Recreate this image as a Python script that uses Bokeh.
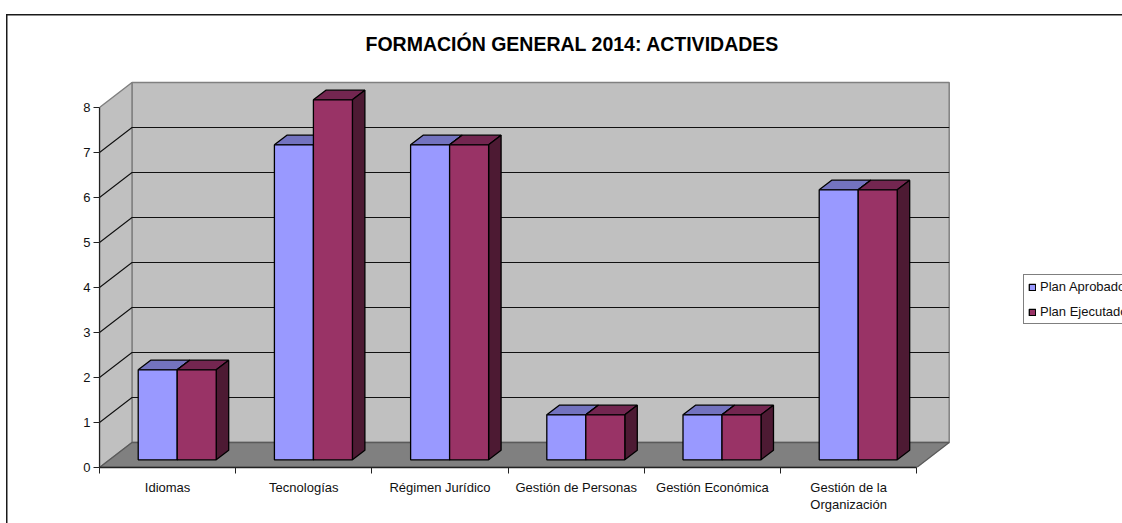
from bokeh.embed import file_html
from bokeh.models import FixedTicker, Legend, LegendItem, LinearAxis, Range1d, Title
from bokeh.plotting import figure
from bokeh.resources import INLINE

TITLE = "FORMACIÓN GENERAL 2014: ACTIVIDADES"
categories = ["Idiomas", "Tecnologías", "Régimen Jurídico", "Gestión de Personas",
              "Gestión Económica", "Gestión de la\nOrganización"]
plan_aprobado = [2, 7, 7, 1, 1, 6]
plan_ejecutado = [2, 8, 7, 1, 1, 6]
series_names = ["Plan Aprobado", "Plan Ejecutado"]
y_ticks = [0, 1, 2, 3, 4, 5, 6, 7, 8]
FONT = "Liberation Sans"

# pixels of the projection
X0, Y0, CAT_W, UNIT_H = 99.0, 467.0, 136.2, 45.0
W, H, FRAME_TOP = 1122, 523, 60
DX = 32.5 / CAT_W      # depth offset of the back wall, in category units
DY = 25.0 / UNIT_H     # depth offset of the back wall, in value units
N, VMAX = len(categories), max(y_ticks)
GAP, BAR = 28.7 / CAT_W, 39.0 / CAT_W
D0, D1 = 0.308, 0.692  # bar depth inside the floor


def proj(x, v, d):
    return x + d * DX, v + d * DY


def poly(*pts):
    p_ = [proj(*q) for q in pts]
    return [a for a, _ in p_], [b for _, b in p_]


p = figure(width=W, height=H, output_backend="svg", toolbar_location=None,
           x_range=Range1d(0, (W - X0) / CAT_W), y_range=Range1d(0, (Y0 - FRAME_TOP) / UNIT_H),
           x_axis_type=None, y_axis_type=None,
           min_border_left=int(X0), min_border_right=0, min_border_top=FRAME_TOP,
           min_border_bottom=H - int(Y0), outline_line_color=None,
           background_fill_alpha=0, border_fill_alpha=0)
# the page margin is cancelled; the chart's outer frame (its right and bottom edges
# fall outside the picture) is painted behind the transparent canvas
p.styles = {
    "position": "fixed", "left": "0px", "top": "0px",
    "background": "linear-gradient(#1a1a1a,#1a1a1a) 6px 14px / 1200px 1.5px no-repeat,"
                  "linear-gradient(#1a1a1a,#1a1a1a) 6px 14px / 1.5px 600px no-repeat,#ffffff",
}
p.xgrid.visible = False
p.ygrid.visible = False

p.title = Title(text=TITLE, align="left", offset=266, text_font=FONT, text_font_size="19.5px",
                text_font_style="bold", text_color="black", standoff=11)

# walls and floor
wx, wy = poly((0, 0, 1), (N, 0, 1), (N, VMAX, 1), (0, VMAX, 1))
sx, sy = poly((0, 0, 0), (0, 0, 1), (0, VMAX, 1), (0, VMAX, 0))
fx, fy = poly((0, 0, 0), (N, 0, 0), (N, 0, 1), (0, 0, 1))
p.patch(wx, wy, fill_color="#C0C0C0", line_color="#808080", line_width=1.5)
p.patch(sx, sy, fill_color="#C0C0C0", line_color="#808080", line_width=1.5)

# gridlines
for v in y_ticks[1:-1]:
    gx, gy = poly((0, v, 0), (0, v, 1), (N, v, 1))
    p.line(gx, gy, line_color="#111111", line_width=1.1)

p.patch(fx, fy, fill_color="#808080", line_color="#5A5A5A", line_width=1.3)

# bars
colors = [("#9999FF", "#7373BF", "#4D4D80"), ("#993366", "#732650", "#4D1A33")]
legend_items = []
for i in range(N):
    for s, vals in enumerate([plan_aprobado, plan_ejecutado]):
        v = vals[i]
        a = i + GAP + s * BAR
        b = a + BAR
        face, top, side = colors[s]
        tx, ty = poly((a, v, D0), (b, v, D0), (b, v, D1), (a, v, D1))
        rx, ry = poly((b, 0, D0), (b, 0, D1), (b, v, D1), (b, v, D0))
        qx, qy = poly((a, 0, D0), (b, 0, D0), (b, v, D0), (a, v, D0))
        p.patch(tx, ty, fill_color=top, line_color="black", line_width=1.3)
        p.patch(rx, ry, fill_color=side, line_color="black", line_width=1.3)
        r = p.patch(qx, qy, fill_color=face, line_color="black", line_width=1.3)
        if i == 0:
            legend_items.append(LegendItem(label=series_names[s], renderers=[r]))

# axes
yax = LinearAxis(ticker=FixedTicker(ticks=y_ticks), bounds=(0, VMAX), axis_line_color="#222222",
                 axis_line_width=1.2, major_tick_line_color="#222222", major_tick_in=0, major_tick_out=6,
                 minor_tick_line_color=None, major_label_standoff=3, major_label_text_font=FONT,
                 major_label_text_font_size="13px", major_label_text_color="#111111")
p.add_layout(yax, "left")

centers = [i + 0.5 for i in range(N)]
xax = LinearAxis(ticker=FixedTicker(ticks=centers, minor_ticks=list(range(N + 1))), bounds=(0, N),
                 major_label_overrides=dict(zip(centers, categories)), axis_line_color="#222222",
                 axis_line_width=1.6, major_tick_line_color=None, major_tick_in=0, major_tick_out=0,
                 minor_tick_line_color="#222222", minor_tick_in=0, minor_tick_out=6,
                 major_label_standoff=6, major_label_text_font=FONT, major_label_text_font_size="13px",
                 major_label_text_color="#111111", major_label_text_line_height=1.15)
p.add_layout(xax, "below")

legend = Legend(items=legend_items, location=(924, 143), orientation="vertical", margin=0, padding=4,
                spacing=10, label_height=14, label_width=80, glyph_width=8, glyph_height=8,
                label_standoff=4, label_text_font=FONT, label_text_font_size="13px",
                label_text_color="#111111", border_line_color="black", border_line_width=1,
                background_fill_color="white", background_fill_alpha=1)
p.add_layout(legend, "center")

open("out.html", "w").write(file_html(p, INLINE))
